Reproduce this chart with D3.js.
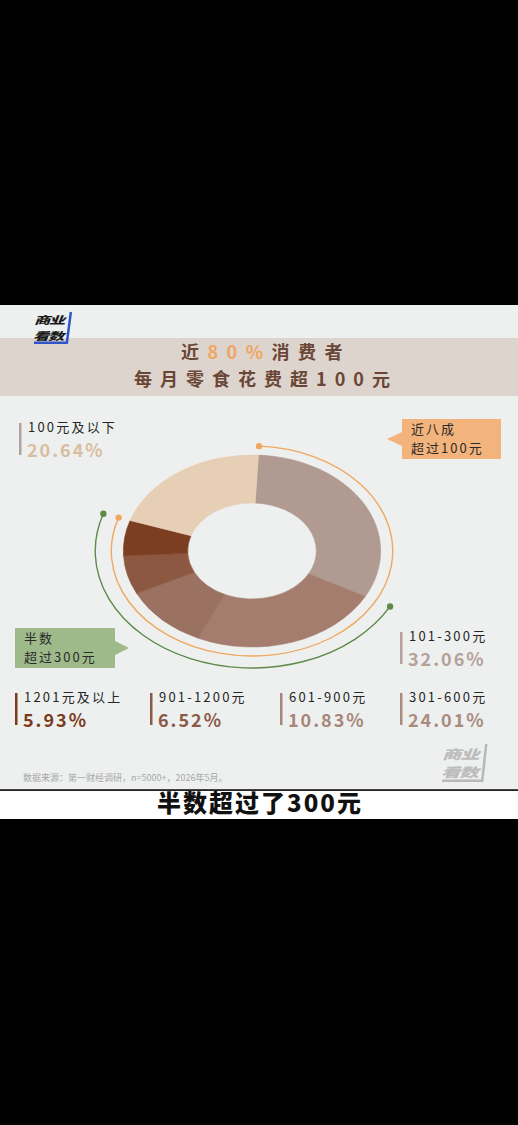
<!DOCTYPE html>
<html>
<head>
<meta charset="utf-8">
<script src="https://cdn.jsdelivr.net/npm/d3@7"></script>
<style>
  body { margin: 0; background: #000; }
  text { font-family: "Noto Sans CJK SC", "Noto Sans", sans-serif; }
</style>
</head>
<body>
<script>
// spending brackets, in the order they run clockwise from 12 o'clock
var categories = ["101-300元", "301-600元", "601-900元", "901-1200元", "1201元及以上", "100元及以下"];
var shares = [32.06, 24.01, 10.83, 6.52, 5.93, 20.64];
var shareLabels = ["32.06%", "24.01%", "10.83%", "6.52%", "5.93%", "20.64%"];

var titleLine1 = ["近", "80%", "消费者"];
var titleLine2 = "每月零食花费超100元";
var sourceNote = "数据来源：第一财经调研，n=5000+，2026年5月。";
var caption = "半数超过了300元";

// colours
var sliceColors = ["#b09a91", "#a57d6f", "#9b7161", "#8c5842", "#7c3e20", "#e7cfb6"];
var labelColors = ["#b5a09a", "#ab8a80", "#a6867a", "#8b5b47", "#7b3b1d", "#d9bd9f"];

var svgWidth = 518;
var svgHeight = 1125;

var svg = d3.select("body")
  .append("svg")
  .attr("width", svgWidth)
  .attr("height", svgHeight);

svg.append("rect")
  .attr("width", svgWidth)
  .attr("height", svgHeight)
  .attr("fill", "#000");

// the card
svg.append("rect")
  .attr("x", 0).attr("y", 305)
  .attr("width", svgWidth).attr("height", 484)
  .attr("fill", "#edf0ef");

// title band
svg.append("rect")
  .attr("x", 0).attr("y", 338)
  .attr("width", svgWidth).attr("height", 58)
  .attr("fill", "#ddd4ce");

// little logo: two stacked words, stretched sideways
function drawLogo(x, y, size, textColor, frameColor) {
  var g = svg.append("g").attr("transform", `translate(${x}, ${y})`);
  var lh = size * 1.47;
  var w = size * 3.7, h = lh * 2;
  g.append("path")
    .attr("d", `M${w},0 L${w - 4},${h} L2,${h}`)
    .attr("fill", "none")
    .attr("stroke", frameColor)
    .attr("stroke-width", 2.5);
  ["商业", "看数"].forEach(function(s, i) {
    g.append("text")
      .attr("transform", `translate(${2 - i}, ${lh * i + size * 1.16}) scale(1.55, 1)`)
      .attr("font-size", size).attr("font-weight", 900)
      .attr("font-style", "italic")
      .attr("letter-spacing", -0.8)
      .attr("fill", textColor)
      .text(s);
  });
}
drawLogo(32, 312, 10.5, "#1b1b1b", "#2f55c8");

// title
var t1 = svg.append("text")
  .attr("x", 266).attr("y", 359)
  .attr("text-anchor", "middle")
  .attr("font-size", 18).attr("font-weight", 700)
  .attr("letter-spacing", 8.5)
  .attr("fill", "#6a4636");
t1.append("tspan").text(titleLine1[0]);
t1.append("tspan").attr("fill", "#f0a560").text(titleLine1[1]);
t1.append("tspan").text(titleLine1[2]);

svg.append("text")
  .attr("x", 266).attr("y", 386)
  .attr("text-anchor", "middle")
  .attr("font-size", 18).attr("font-weight", 700)
  .attr("letter-spacing", 8)
  .attr("fill", "#6a4636")
  .text(titleLine2);

// donut, drawn round then squashed like the picture
var cx = 252, cy = 551, sx = 1.34;
var rInner = 48, rOuter = 96;

var pie = d3.pie().sort(null).value(d => d)
  .startAngle(0.05).endAngle(0.05 + 2 * Math.PI);
var arcs = pie(shares);

var donut = svg.append("g")
  .attr("transform", `translate(${cx}, ${cy}) scale(${sx}, 1)`);

var arcGen = d3.arc().innerRadius(rInner).outerRadius(rOuter);

donut.selectAll("path.slice")
  .data(arcs)
  .enter()
  .append("path")
  .attr("class", "slice")
  .attr("d", arcGen)
  .attr("fill", (d, i) => sliceColors[i])
  .attr("stroke", (d, i) => sliceColors[i])
  .attr("stroke-width", 0.5);

// bracket arcs: orange = over 100, green = over 300
function bracket(fromIdx, toIdx, radius, color) {
  var a0 = arcs[fromIdx].startAngle;
  var a1 = arcs[toIdx].endAngle;
  var line = d3.arc().innerRadius(radius).outerRadius(radius)
    .startAngle(a0).endAngle(a1);
  donut.append("path")
    .attr("d", line())
    .attr("fill", "none")
    .attr("stroke", color)
    .attr("stroke-width", 1.4)
    .attr("vector-effect", "non-scaling-stroke");
  [a0, a1].forEach(function(a) {
    svg.append("circle")
      .attr("cx", cx + sx * radius * Math.sin(a))
      .attr("cy", cy - radius * Math.cos(a))
      .attr("r", 3.2)
      .attr("fill", color);
  });
}
bracket(0, 4, 105, "#f0a760");
bracket(1, 4, 117, "#5f8a48");

// callouts
function callout(x, y, w, h, tipX, color, lines) {
  var g = svg.append("g");
  var tipDir = tipX < x ? x : x + w;
  g.append("rect")
    .attr("x", x).attr("y", y)
    .attr("width", w).attr("height", h)
    .attr("fill", color);
  g.append("path")
    .attr("d", `M${tipDir},${y + h / 2 - 7} L${tipX},${y + h / 2} L${tipDir},${y + h / 2 + 7} Z`)
    .attr("fill", color);
  lines.forEach(function(s, i) {
    g.append("text")
      .attr("x", x + 9).attr("y", y + 15 + i * 19)
      .attr("font-size", 13)
      .attr("letter-spacing", 2)
      .attr("fill", "#2a2a2a")
      .text(s);
  });
}
callout(402, 419, 99, 40, 387, "#f3b37c", ["近八成", "超过100元"]);
callout(15, 628, 100, 40, 129, "#9eb98a", ["半数", "超过300元"]);

// category labels: position of each [x, y] (bar left, top)
var labelPos = [[400, 632], [400, 693], [280, 693], [150, 693], [15, 693], [19, 423]];

var labels = svg.selectAll("g.lab")
  .data(categories)
  .enter()
  .append("g")
  .attr("class", "lab")
  .attr("transform", (d, i) => `translate(${labelPos[i][0]}, ${labelPos[i][1]})`);

labels.append("rect")
  .attr("x", 0).attr("y", 0)
  .attr("width", 2.5).attr("height", 32)
  .attr("fill", (d, i) => i == 5 ? "#b0a29c" : labelColors[i]);

labels.append("text")
  .attr("x", 9).attr("y", 9)
  .attr("font-size", 13)
  .attr("letter-spacing", 2.2)
  .attr("fill", "#262626")
  .text(d => d);

labels.append("text")
  .attr("x", 8).attr("y", 34)
  .attr("font-size", 18)
  .attr("font-weight", 700)
  .attr("letter-spacing", 2)
  .attr("font-family", "'DejaVu Sans', sans-serif")
  .attr("fill", (d, i) => labelColors[i])
  .text((d, i) => shareLabels[i]);

// source note
svg.append("text")
  .attr("x", 23).attr("y", 781)
  .attr("font-size", 9)
  .attr("fill", "#a8a8a8")
  .text(sourceNote);

// watermark logo bottom right
drawLogo(440, 744, 12.5, "#bcbcbc", "#b8b8b8");

// caption bar
svg.append("rect")
  .attr("x", 0).attr("y", 789)
  .attr("width", svgWidth).attr("height", 1.5)
  .attr("fill", "#444");
svg.append("rect")
  .attr("x", 0).attr("y", 791)
  .attr("width", svgWidth).attr("height", 28)
  .attr("fill", "#fff");
svg.append("text")
  .attr("x", 260).attr("y", 812)
  .attr("text-anchor", "middle")
  .attr("font-size", 24).attr("font-weight", 900)
  .attr("letter-spacing", 2)
  .attr("fill", "#111")
  .text(caption);
</script>
</body>
</html>
